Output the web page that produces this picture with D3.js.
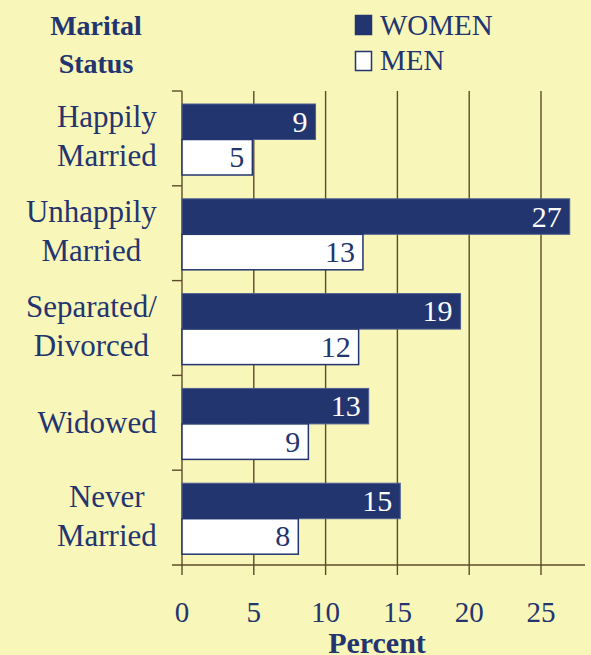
<!DOCTYPE html>
<html><head><meta charset="utf-8">
<script src="https://cdn.jsdelivr.net/npm/d3@7"></script>
</head>
<body style="margin:0;padding:0;background:#f9f6b9;">
<script>
const categories = [["Happily","Married"],["Unhappily","Married"],["Separated/","Divorced"],["Widowed"],["Never","Married"]];
const women = [9.3, 27, 19.4, 13, 15.2];
const men = [4.9, 12.6, 12.3, 8.8, 8.1];
const womenLabels = [9, 27, 19, 13, 15];
const menLabels = [5, 13, 12, 9, 8];
const xTicks = [0, 5, 10, 15, 20, 25];
const seriesNames = ["WOMEN", "MEN"];

const W = 591, H = 655;
const SERIF = "Liberation Serif";
const navy = "#23356f", grid = "#5d4b2a", bg = "#f9f6b9";
const svg = d3.select("body").append("svg").attr("width", W).attr("height", H)
  .style("display", "block");
svg.append("rect").attr("width", W).attr("height", H).attr("fill", bg);

function serif(sel) { return sel.attr("font-family", SERIF).style("font-family", SERIF, "important"); }

const x = d3.scaleLinear().domain([0, 25]).range([182, 541]);
const y = d3.scaleBand().domain(d3.range(categories.length)).range([91, 565]);
const bw = y.bandwidth();

svg.append("g").selectAll("line").data(xTicks).join("line")
  .attr("x1", d => x(d)).attr("x2", d => x(d))
  .attr("y1", 91).attr("y2", 575)
  .attr("stroke", grid).attr("stroke-width", 1.4);
svg.append("line").attr("x1", 172).attr("x2", 585).attr("y1", 565).attr("y2", 565)
  .attr("stroke", grid).attr("stroke-width", 1.4);
svg.append("g").selectAll("line").data(d3.range(categories.length)).join("line")
  .attr("x1", 172).attr("x2", 182).attr("y1", d => y(d)).attr("y2", d => y(d))
  .attr("stroke", grid).attr("stroke-width", 1.4);

const barH = 35.5;
svg.append("g").selectAll("rect").data(women).join("rect")
  .attr("x", x(0)).attr("y", (d,i) => y(i) + 13)
  .attr("width", d => x(d) - x(0)).attr("height", barH)
  .attr("fill", navy).attr("stroke", "#4f5f92").attr("stroke-width", 1);
svg.append("g").selectAll("rect").data(men).join("rect")
  .attr("x", x(0)).attr("y", (d,i) => y(i) + 13 + barH)
  .attr("width", d => x(d) - x(0)).attr("height", barH)
  .attr("fill", "#ffffff").attr("stroke", navy).attr("stroke-width", 1.5);

serif(svg.append("g").selectAll("text").data(women).join("text"))
  .attr("x", d => x(d) - 8).attr("y", (d,i) => y(i) + 13 + barH/2 + 10)
  .attr("text-anchor", "end").attr("font-size", 30).attr("fill", "#ffffff")
  .text((d,i) => womenLabels[i]);
serif(svg.append("g").selectAll("text").data(men).join("text"))
  .attr("x", d => x(d) - 8).attr("y", (d,i) => y(i) + 13 + barH*1.5 + 10)
  .attr("text-anchor", "end").attr("font-size", 30).attr("fill", navy)
  .text((d,i) => menLabels[i]);

const labG = svg.append("g");
categories.forEach((lines, i) => {
  const c = y(i) + bw/2;
  const t = serif(labG.append("text"))
    .attr("font-size", 31).attr("fill", navy).attr("text-anchor", "middle");
  const base = lines.length === 1 ? c + 10 : c - 11;
  lines.forEach((ln, j) => {
    serif(t.append("tspan")).attr("x", 0).attr("y", base + j*39).text(ln);
  });
  const w = t.node().getBBox().width;
  t.selectAll("tspan").attr("x", 157 - w/2);
});

serif(svg.append("g").selectAll("text").data(xTicks).join("text"))
  .attr("x", d => x(d)).attr("y", 622).attr("text-anchor", "middle")
  .attr("font-size", 29).attr("fill", navy).text(d => d);

serif(svg.append("text"))
  .attr("x", 377).attr("y", 653).attr("text-anchor", "middle")
  .attr("font-size", 30).attr("font-weight", "bold").attr("fill", navy).text("Percent");

const yt = serif(svg.append("text"))
  .attr("text-anchor", "middle").attr("font-size", 28)
  .attr("font-weight", "bold").attr("fill", navy);
serif(yt.append("tspan")).attr("x", 96).attr("y", 35).text("Marital");
serif(yt.append("tspan")).attr("x", 96).attr("y", 73).text("Status");

const leg = svg.append("g");
seriesNames.forEach((n, i) => {
  leg.append("rect").attr("x", 355.5).attr("y", 15.5 + i*36).attr("width", 16).attr("height", 19)
    .attr("fill", i === 0 ? navy : "#ffffff").attr("stroke", navy).attr("stroke-width", 1.5);
  serif(leg.append("text"))
    .attr("x", 380).attr("y", 35 + i*35).attr("font-size", 29)
    .attr("fill", navy).text(n);
});
</script>
</body></html>
